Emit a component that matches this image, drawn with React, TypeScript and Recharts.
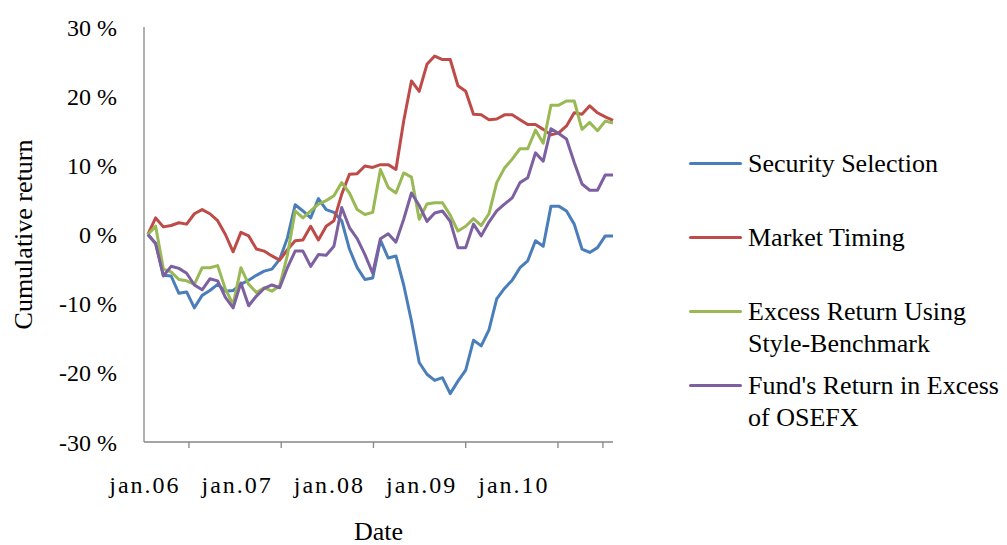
import React from 'react';
import { LineChart, Line, XAxis, YAxis } from 'recharts';

// monthly points, jan.06 .. jan.11
const monthNames = ['jan', 'feb', 'mar', 'apr', 'mai', 'jun', 'jul', 'aug', 'sep', 'okt', 'nov', 'des'];
const years = ['06', '07', '08', '09', '10', '11'];
const months = years.flatMap((y) => monthNames.map((m) => `${m}.${y}`)).slice(0, 61);

// cumulative return, %
const securitySelection = [
  0, -1.3, -5.9, -6.0, -8.5, -8.3, -10.6, -8.8, -8.1, -7.2, -8.2, -8.1, -7.2, -6.6, -5.9, -5.3,
  -5.0, -3.6, -0.5, 4.3, 3.4, 2.4, 5.2, 3.6, 3.2, 2.0, -2.1, -4.8, -6.5, -6.3, -0.8, -3.4,
  -3.1, -7.3, -12.5, -18.5, -20.2, -21.1, -20.7, -23.0, -21.2, -19.6, -15.3, -16.1, -13.8, -9.3,
  -7.8, -6.6, -4.8, -3.8, -0.9, -1.7, 4.1, 4.1, 3.4, 1.5, -2.1, -2.6, -1.9, -0.2, -0.2,
];
const marketTiming = [
  0, 2.4, 1.1, 1.3, 1.7, 1.5, 3.0, 3.6, 3.0, 2.0, 0.0, -2.5, 0.3, -0.2, -2.1, -2.4,
  -3.1, -3.7, -2.2, -0.9, -0.8, 1.2, -0.8, 1.2, 2.0, 5.8, 8.7, 8.8, 9.9, 9.7, 10.1, 10.1,
  9.4, 16.4, 22.2, 20.7, 24.6, 25.8, 25.3, 25.3, 21.5, 20.7, 17.4, 17.3, 16.6, 16.7,
  17.3, 17.3, 16.6, 15.9, 15.9, 15.2, 14.4, 14.7, 15.7, 17.6, 17.4, 18.6, 17.6, 17.0, 16.5,
];
const excessStyle = [
  0, 1.2, -5.0, -5.4, -6.5, -6.7, -7.2, -4.8, -4.8, -4.5, -7.9, -10.1, -4.8, -7.2, -8.4, -7.7,
  -8.2, -7.4, -3.0, 3.4, 2.4, 3.4, 4.4, 4.9, 5.6, 7.5, 6.0, 3.6, 2.9, 3.2, 9.4, 6.8,
  6.0, 8.9, 8.3, 2.2, 4.4, 4.6, 4.6, 2.8, 0.5, 1.2, 2.3, 1.3, 3.0, 7.5,
  9.6, 10.9, 12.4, 12.4, 15.1, 13.2, 18.7, 18.7, 19.3, 19.3, 15.2, 16.2, 15.0, 16.4, 16.1,
];
const excessOsefx = [
  0, -1.3, -6.0, -4.6, -4.9, -5.6, -7.3, -8.0, -6.4, -6.7, -9.1, -10.6, -7.0, -10.3, -8.9, -7.8,
  -7.3, -7.7, -4.8, -2.4, -2.4, -4.6, -2.9, -3.0, -1.7, 3.9, 1.0, -0.6, -2.9, -5.6, -0.6, 0.1,
  -1.1, 2.2, 6.0, 4.2, 1.9, 3.1, 3.4, 1.9, -1.9, -1.9, 1.5, -0.2, 1.8, 3.4,
  4.4, 5.3, 7.5, 8.2, 11.8, 10.6, 15.3, 14.6, 13.8, 10.4, 7.3, 6.4, 6.4, 8.6, 8.6,
];

const yTicks = [-30, -20, -10, 0, 10, 20, 30];
const xTickPos = [5.3, 17.2, 29.1, 41, 52.9, 58.7];
const xLabels = ['jan.06', 'jan.07', 'jan.08', 'jan.09', 'jan.10', ''];

const series = [
  { key: 'security', name: 'Security Selection', color: '#4A7EBB' },
  { key: 'market', name: 'Market Timing', color: '#BE4B48' },
  { key: 'style', name: 'Excess Return Using Style-Benchmark', color: '#98B954' },
  { key: 'osefx', name: "Fund's Return in Excess of OSEFX", color: '#7D60A0' },
];

const data = months.map((m, i) => ({
  i,
  month: m,
  security: securitySelection[i],
  market: marketTiming[i],
  style: excessStyle[i],
  osefx: excessOsefx[i],
}));

const axisColor = '#868686';
const font = '"Liberation Serif", "Times New Roman", serif';

const XTick = (props: any) => {
  const { x, y, index } = props;
  return (
    <text x={x - 44} y={y} dy="0.71em" textAnchor="middle" fontSize={24} letterSpacing={2} fill="#000">
      {xLabels[index]}
    </text>
  );
};

export default function App() {
  return (
    <div style={{ position: 'absolute', left: 0, top: 0, width: 1007, height: 545, background: '#fff', fontFamily: font }}>
      <LineChart width={1007} height={545} data={data} margin={{ top: 27, right: 394, bottom: 0, left: 0 }}>
        <XAxis
          dataKey="i"
          type="number"
          domain={[-0.5, 60]}
          ticks={xTickPos}
          interval={0}
          height={103}
          stroke={axisColor}
          strokeWidth={1.3}
          tickSize={6}
          tickMargin={28}
          tick={<XTick />}
          label={{
            value: 'Date',
            content: (p: any) => (
              <text x={p.viewBox.x + p.viewBox.width / 2} y={p.viewBox.y + 98} textAnchor="middle" fontSize={26} fill="#000">
                Date
              </text>
            ),
          }}
        />
        <YAxis
          type="number"
          domain={[-30, 30]}
          ticks={yTicks}
          interval={0}
          width={144}
          stroke={axisColor}
          strokeWidth={1.3}
          tickLine={false}
          tickSize={0}
          tickMargin={27}
          tick={{ fill: '#000', fontSize: 24 }}
          tickFormatter={(v: number) => `${v} %`}
          label={{
            value: 'Cumulative return',
            content: (p: any) => {
              const cx = p.viewBox.x + 23;
              const cy = p.viewBox.y + p.viewBox.height / 2;
              return (
                <text x={cx} y={cy} transform={`rotate(-90 ${cx} ${cy})`} textAnchor="middle" dominantBaseline="central" fontSize={26} fill="#000">
                  Cumulative return
                </text>
              );
            },
          }}
        />
        {series.map((s) => (
          <Line
            key={s.key}
            type="linear"
            dataKey={s.key}
            name={s.name}
            stroke={s.color}
            strokeWidth={3}
            strokeLinejoin="round"
            dot={false}
            activeDot={false}
            isAnimationActive={false}
          />
        ))}
      </LineChart>

      {/* legend */}
      <div style={{ position: 'absolute', left: 689, top: 0 }}>
        {series.map((s, i) => (
          <div key={s.key} style={{ position: 'absolute', top: 148 + i * 74, left: 0, display: 'flex', alignItems: 'flex-start' }}>
            <div style={{ width: 53, height: 3, marginTop: 14, background: s.color, borderRadius: 1.5, flex: 'none' }} />
            <div style={{ marginLeft: 6, width: 258, fontSize: 26, lineHeight: '32px', color: '#000' }}>{s.name}</div>
          </div>
        ))}
      </div>
    </div>
  );
}
